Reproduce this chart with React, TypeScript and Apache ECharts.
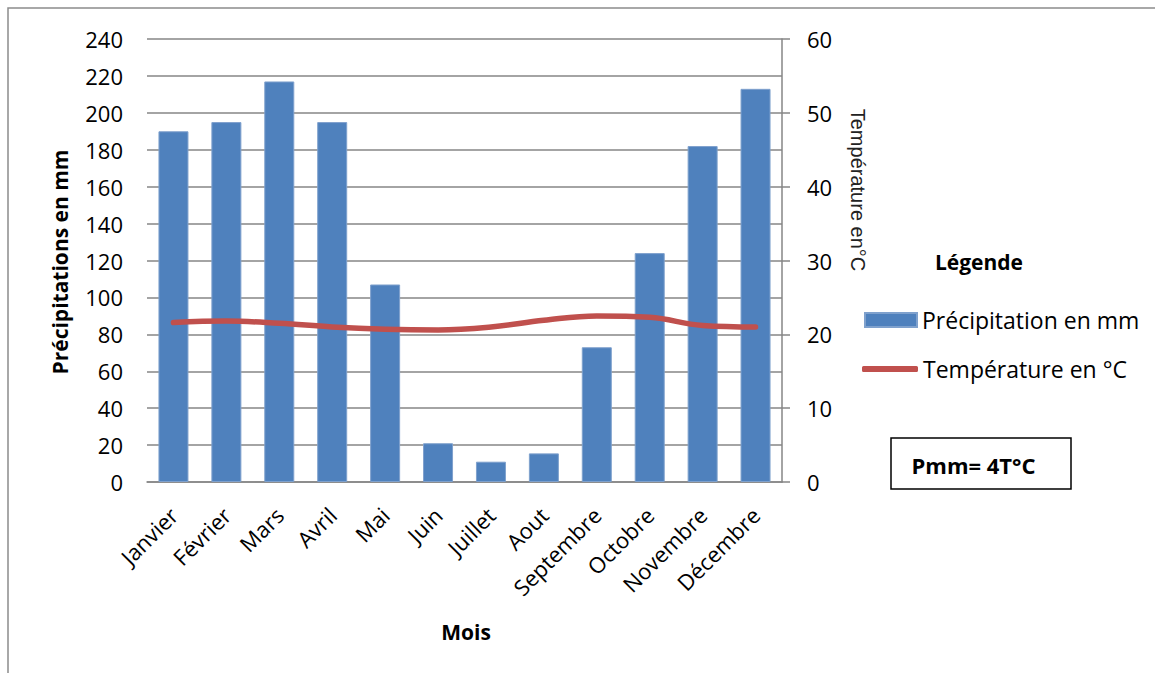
import React, { useEffect, useRef } from "react";
import * as echarts from "echarts";

const months = ["Janvier", "Février", "Mars", "Avril", "Mai", "Juin", "Juillet", "Aout", "Septembre", "Octobre", "Novembre", "Décembre"];
const precipitation = [190, 195, 217, 195, 107, 21, 11, 15.5, 73, 124, 182, 213];
const temperature = [21.6, 21.8, 21.5, 21.0, 20.7, 20.6, 21.0, 21.9, 22.5, 22.3, 21.2, 21.0];
const leftTicks = { min: 0, max: 240, interval: 20 };
const rightTicks = { min: 0, max: 60, interval: 10 };

const FONT = "Open Sans";

export default function App() {
  const ref = useRef<HTMLDivElement>(null);
  useEffect(() => {
    if (!ref.current) return;
    const chart = echarts.init(ref.current, null, { renderer: "svg" });
    const grid = "#868686";
    chart.setOption({
      animation: false,
      backgroundColor: "#ffffff",
      textStyle: { fontFamily: FONT, color: "#000" },
      grid: { left: 147, right: 373, top: 39, bottom: 191, containLabel: false },
      legend: [
        {
          data: [{ name: "Précipitation en mm", icon: "rect" }],
          left: 864,
          top: 308,
          padding: 0,
          itemWidth: 52,
          itemHeight: 14,
          itemGap: 0,
          selectedMode: false,
          textStyle: { fontFamily: FONT, fontSize: 23, color: "#000", lineHeight: 24 },
        },
        {
          data: [{ name: "Température en °C", icon: "roundRect" }],
          left: 862,
          top: 357,
          padding: 0,
          itemWidth: 56,
          itemHeight: 6,
          itemGap: 0,
          selectedMode: false,
          itemStyle: { color: "#C0504D", borderWidth: 0 },
          textStyle: { fontFamily: FONT, fontSize: 23, color: "#000", lineHeight: 24 },
        },
      ],
      xAxis: {
        type: "category",
        data: months,
        axisLine: { show: true, lineStyle: { color: grid, width: 1.5 } },
        axisTick: { show: false },
        axisLabel: {
          interval: 0,
          rotate: 45,
          fontSize: 22,
          fontFamily: FONT,
          color: "#000",
          margin: 29,
        },
      },
      yAxis: [
        {
          type: "value",
          position: "left",
          min: leftTicks.min,
          max: leftTicks.max,
          interval: leftTicks.interval,
          axisLine: { show: false },
          axisTick: { show: false },
          splitLine: { show: true, lineStyle: { color: grid, width: 1.5 } },
          axisLabel: { fontSize: 22, fontFamily: FONT, color: "#000", margin: 24 },
        },
        {
          type: "value",
          position: "right",
          min: rightTicks.min,
          max: rightTicks.max,
          interval: rightTicks.interval,
          axisLine: { show: true, lineStyle: { color: grid, width: 1.5 } },
          axisTick: { show: true, inside: false, length: 8, lineStyle: { color: grid, width: 1.5 } },
          splitLine: { show: false },
          axisLabel: { fontSize: 22, fontFamily: FONT, color: "#000", margin: 25 },
        },
      ],
      series: [
        {
          name: "Précipitation en mm",
          type: "bar",
          data: precipitation,
          barWidth: 30,
          itemStyle: { color: "#4F81BD", borderColor: "#7FA1CD", borderWidth: 1 },
        },
        {
          name: "Température en °C",
          type: "line",
          yAxisIndex: 1,
          data: temperature,
          smooth: 0.4,
          symbol: "none",
          showSymbol: false,
          itemStyle: { color: "#C0504D" },
          lineStyle: { color: "#C0504D", width: 5.5, cap: "round", join: "round" },
        },
      ],
      graphic: [
        {
          type: "rect",
          shape: { x: 8, y: 8, width: 1200, height: 700 },
          style: { fill: "none", stroke: "#8C8C8C", lineWidth: 1.5 },
          silent: true,
        },
        {
          type: "text",
          x: 60,
          y: 262,
          rotation: Math.PI / 2,
          style: {
            text: "Précipitations en mm",
            fontFamily: FONT,
            fontSize: 21,
            fontWeight: "bold",
            fill: "#000",
            textAlign: "center",
            textVerticalAlign: "middle",
          },
        },
        {
          type: "text",
          x: 858,
          y: 190,
          rotation: -Math.PI / 2,
          style: {
            text: "Température en°C",
            fontFamily: "Liberation Sans",
            fontSize: 20,
            fill: "#222",
            textAlign: "center",
            textVerticalAlign: "middle",
          },
        },
        {
          type: "text",
          x: 466,
          y: 632,
          style: {
            text: "Mois",
            fontFamily: FONT,
            fontSize: 21,
            fontWeight: "bold",
            fill: "#000",
            textAlign: "center",
            textVerticalAlign: "middle",
          },
        },
        {
          type: "text",
          x: 979,
          y: 262,
          style: {
            text: "Légende",
            fontFamily: FONT,
            fontSize: 21,
            fontWeight: "bold",
            fill: "#000",
            textAlign: "center",
            textVerticalAlign: "middle",
          },
        },
        {
          type: "rect",
          shape: { x: 891, y: 438, width: 180, height: 51 },
          style: { fill: "#fff", stroke: "#000", lineWidth: 1.5 },
        },
        {
          type: "text",
          x: 973.5,
          y: 465,
          style: {
            text: "Pmm= 4T°C",
            fontFamily: FONT,
            fontSize: 22,
            fontWeight: "bold",
            fill: "#000",
            textAlign: "center",
            textVerticalAlign: "middle",
          },
        },
      ],
    });
    return () => chart.dispose();
  }, []);
  return <div ref={ref} style={{ position: "absolute", left: 0, top: 0, width: 1155, height: 673 }} />;
}
